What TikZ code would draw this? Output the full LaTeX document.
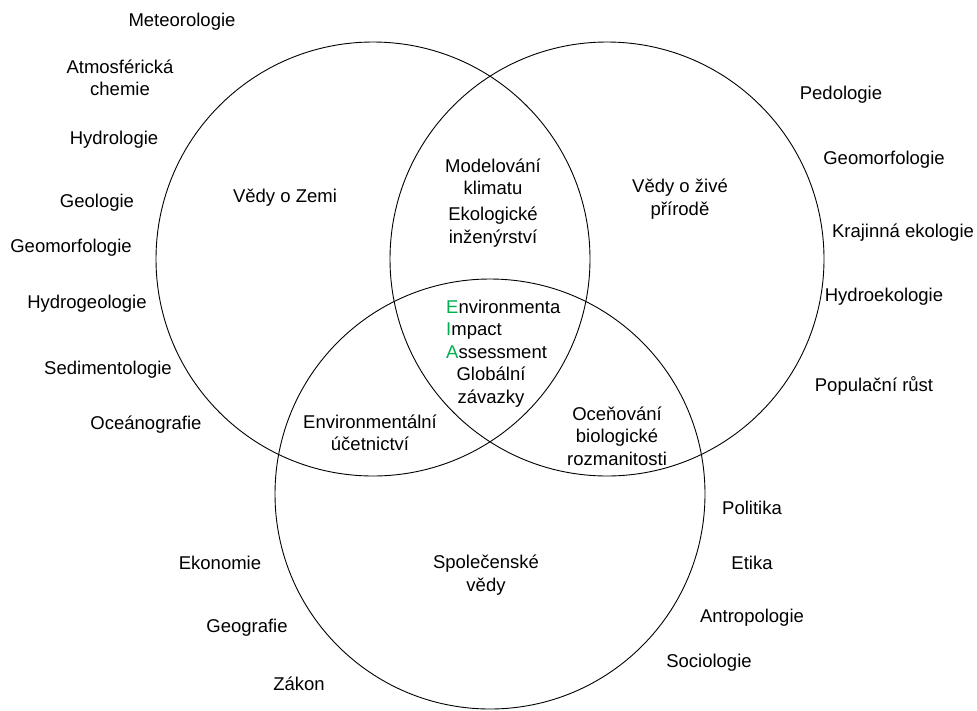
\documentclass[tikz,border=0pt]{standalone}
\usepackage{fontspec}
\setmainfont{Liberation Sans}
\usepackage{xcolor}
\usepackage{tikz}
\definecolor{eiagreen}{RGB}{0,176,80}
\newcommand{\lbl}{\fontsize{18.5}{22.5}\selectfont}

\begin{document}
\begin{tikzpicture}[x=1pt, y=-1pt,
	set/.style={circle, draw, line width=0.9pt, minimum size=434pt, inner sep=0pt},
	word/.style={align=center, font=\lbl, inner sep=0pt}]
\useasboundingbox (0,0) rectangle (977,710);
% the three sets
\node [set] (zeme) at (373,259) {};
\node [set] (ziva) at (607,259) {};
\node [set, minimum size=430pt] (spol) at (490,494) {};
% set names and overlaps
\node [word] (zemeT) at (285,198) {Vědy o Zemi};
\node [word] (zivaT) at (680,199) {Vědy o živé\\přírodě};
\node [word] (spolT) at (486,575) {Společenské\\vědy};
\node [word] (model) at (493,177) {Modelování\\klimatu};
\node [word] (inzen) at (493,227) {Ekologické\\inženýrství};
\node [word, align=left, anchor=west] (eia) at (446,329)
	{{\color{eiagreen}E}nvironmenta\\{\color{eiagreen}I}mpact\\{\color{eiagreen}A}ssessment};
\node [word] (zavaz) at (491,387) {Globální\\závazky};
\node [word] (ucet) at (370,433) {Environmentální\\účetnictví};
\node [word] (biodiv) at (617,436) {Oceňování\\biologické\\rozmanitosti};
% earth sciences
\node [word] (meteo) at (182,22) {Meteorologie};
\node [word] (atmo) at (120,78) {Atmosférická\\chemie};
\node [word] (hydrol) at (114,140) {Hydrologie};
\node [word] (geol) at (97,203) {Geologie};
\node [word] (geomL) at (71,248) {Geomorfologie};
\node [word] (hgeol) at (87,304) {Hydrogeologie};
\node [word] (sedim) at (108,370) {Sedimentologie};
\node [word] (ocean) at (146,425) {Oceánografie};
% life sciences
\node [word] (pedol) at (841,95) {Pedologie};
\node [word] (geomR) at (884,160) {Geomorfologie};
\node [word] (kraj) at (903,233) {Krajinná ekologie};
\node [word] (hekol) at (884,297) {Hydroekologie};
\node [word] (popul) at (874,386) {Populační růst};
% social sciences
\node [word] (ekon) at (220,563) {Ekonomie};
\node [word] (geogr) at (247,628) {Geografie};
\node [word] (zakon) at (299,684) {Zákon};
\node [word] (polit) at (752,508) {Politika};
\node [word] (etika) at (752,563) {Etika};
\node [word] (antrop) at (752,618) {Antropologie};
\node [word] (sociol) at (709,663) {Sociologie};
\end{tikzpicture}
\end{document}
